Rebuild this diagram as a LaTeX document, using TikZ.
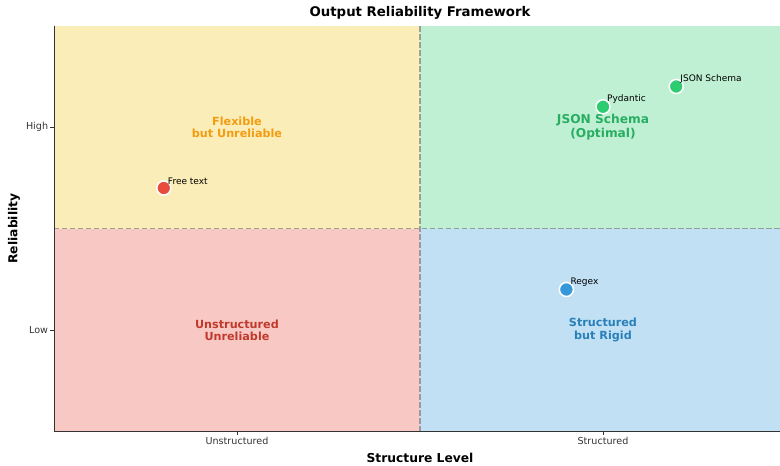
\documentclass[tikz,border=0pt]{standalone}
\usepackage{fontspec}
\setmainfont{DejaVu Sans}
\definecolor{qyellow}{HTML}{F1C40F}
\definecolor{qorange}{HTML}{F39C12}
\definecolor{qgreen}{HTML}{2ECC71}
\definecolor{qdgreen}{HTML}{27AE60}
\definecolor{qred}{HTML}{E74C3C}
\definecolor{qdred}{HTML}{C0392B}
\definecolor{qblue}{HTML}{3498DB}
\definecolor{qdblue}{HTML}{2980B9}
\begin{document}
\begin{tikzpicture}[x=366pt,y=203pt,
        quad/.style={fill opacity=0.3,draw=none},
        quadtext/.style={font=\fontsize{11.2}{12.5}\selectfont\bfseries,align=center},
        divider/.style={gray,opacity=0.7,line width=1.3pt,dash pattern=on 5.5pt off 2.5pt},
        spine/.style={black!80,line width=0.8pt},
        tick/.style={font=\fontsize{9.6}{11}\selectfont},
        point/.style={circle,draw=white,line width=1.5pt,minimum size=14pt,inner sep=0},
        ptlabel/.style={font=\fontsize{9}{10}\selectfont,anchor=south west,inner sep=0,xshift=4pt,yshift=3pt},
        ]
        \useasboundingbox (-0.6475,-0.665) rectangle (1.4836,1.626);

        % quadrants
        \fill[quad,qyellow] (-0.5,0.5) rectangle (0.5,1.5);
        \fill[quad,qgreen] (0.5,0.5) rectangle (1.4836,1.5);
        \fill[quad,qred] (-0.5,-0.5) rectangle (0.5,0.5);
        \fill[quad,qblue] (0.5,-0.5) rectangle (1.4836,0.5);

        \draw[divider] (0.5,-0.5) -- (0.5,1.5);
        \draw[divider] (-0.5,0.5) -- (1.4836,0.5);

        \node[quadtext,text=qorange] (flex) at (0,1) {Flexible\\but Unreliable};
        \node[quadtext,text=qdgreen,font=\fontsize{12.2}{14}\selectfont\bfseries] (opt) at (1,1) {JSON Schema\\(Optimal)};
        \node[quadtext,text=qdred] (unrel) at (0,0) {Unstructured\\Unreliable};
        \node[quadtext,text=qdblue] (rigid) at (1,0) {Structured\\but Rigid};

        % axes
        \coordinate (o) at (-0.5,-0.5);
        \coordinate (xe) at (1.4836,-0.5);
        \coordinate (ye) at (-0.5,1.5);
        \draw[spine] (ye) -- (o) -- (xe);
        \foreach \x/\t in {0/Unstructured,1/Structured}{
            \draw[spine] (\x,-0.5) -- ++(0,-3.5pt) node[tick,below,inner sep=2pt] (xt\x) {\t};
        }
        \foreach \y/\t in {0/Low,1/High}{
            \draw[spine] (-0.5,\y) -- ++(-3.5pt,0) node[tick,left,inner sep=2pt] (yt\y) {\t};
        }
        \node[font=\fontsize{12.3}{14}\selectfont\bfseries] (xlab) at (0.5,-0.630) {Structure Level};
        \node[font=\fontsize{12.3}{14}\selectfont\bfseries,rotate=90] (ylab) at (-0.6095,0.5) {Reliability};
        \node[font=\fontsize{13.3}{15}\selectfont\bfseries] (title) at (0.5,1.562) {Output Reliability Framework};

        % methods
        \node[point,fill=qred] (free) at (-0.2,0.7) {};
        \node[point,fill=qgreen] (pyd) at (1.0,1.1) {};
        \node[point,fill=qgreen] (json) at (1.2,1.2) {};
        \node[point,fill=qblue] (regex) at (0.9,0.2) {};
        \node[ptlabel] at (free.center) {Free text};
        \node[ptlabel] at (pyd.center) {Pydantic};
        \node[ptlabel] at (json.center) {JSON Schema};
        \node[ptlabel] at (regex.center) {Regex};
\end{tikzpicture}
\end{document}
